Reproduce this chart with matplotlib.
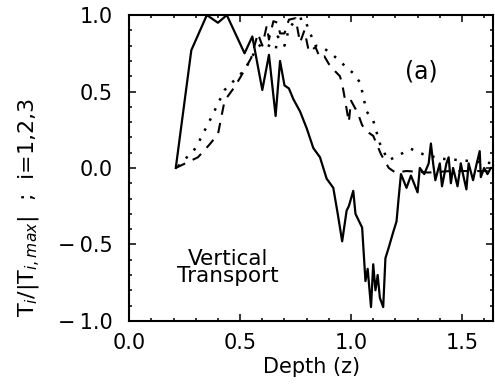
import matplotlib
matplotlib.use("Agg")
import matplotlib.pyplot as plt
from matplotlib.ticker import MultipleLocator, FuncFormatter

# --- series 1 (solid) ---
z1 = [0.21, 0.28, 0.35, 0.40, 0.44, 0.52, 0.555, 0.60, 0.63, 0.66, 0.68, 0.70,
      0.72, 0.74, 0.77, 0.80, 0.83, 0.86, 0.89, 0.92, 0.94, 0.96, 0.98, 0.99,
      1.01, 1.02, 1.05, 1.065, 1.075, 1.09, 1.10, 1.11, 1.12, 1.13, 1.145, 1.155,
      1.17, 1.19, 1.205, 1.215, 1.225, 1.25, 1.27, 1.30, 1.31, 1.33, 1.35, 1.36,
      1.37, 1.38, 1.40, 1.41, 1.43, 1.44, 1.45, 1.46, 1.48, 1.495, 1.50, 1.52,
      1.53, 1.55, 1.565, 1.58, 1.585, 1.60, 1.615, 1.63, 1.645]
t1 = [0.00, 0.77, 1.00, 0.95, 1.00, 0.75, 0.86, 0.51, 0.74, 0.34, 0.70, 0.54,
      0.52, 0.45, 0.37, 0.26, 0.13, 0.07, -0.07, -0.13, -0.30, -0.48, -0.28, -0.25,
      -0.15, -0.30, -0.39, -0.74, -0.66, -0.91, -0.63, -0.80, -0.70, -0.85, -0.91, -0.59,
      -0.52, -0.42, -0.35, -0.19, -0.04, -0.13, -0.05, -0.16, 0.00, -0.04, 0.03, 0.16,
      0.03, -0.08, 0.03, -0.12, 0.03, 0.07, -0.10, 0.00, -0.12, 0.03, -0.01, -0.14,
      0.03, -0.08, 0.02, 0.11, -0.06, 0.00, -0.04, 0.00, 0.00]

# --- series 2 (dashed) ---
z2 = [0.21, 0.31, 0.36, 0.40, 0.43, 0.47, 0.50, 0.55, 0.58, 0.60, 0.62, 0.63,
      0.65, 0.67, 0.68, 0.70, 0.72, 0.75, 0.77, 0.79, 0.81, 0.84, 0.86, 0.88,
      0.90, 0.93, 0.95, 0.96, 0.97, 0.99, 1.00, 1.03, 1.05, 1.07, 1.10, 1.135,
      1.17, 1.20, 1.25, 1.35, 1.45, 1.55, 1.645]
t2 = [0.00, 0.07, 0.15, 0.22, 0.44, 0.52, 0.59, 0.72, 0.88, 0.80, 0.93, 0.84,
      0.96, 0.95, 0.88, 0.88, 0.97, 0.98, 0.82, 0.90, 0.76, 0.79, 0.72, 0.73,
      0.68, 0.63, 0.60, 0.55, 0.47, 0.30, 0.44, 0.36, 0.28, 0.24, 0.21, 0.09,
      0.00, -0.03, -0.02, -0.03, -0.02, -0.02, -0.02]

# --- series 3 (dotted) ---
z3 = [0.22, 0.30, 0.37, 0.43, 0.52, 0.57, 0.60, 0.63, 0.66, 0.67, 0.70, 0.72,
      0.75, 0.79, 0.81, 0.84, 0.87, 0.90, 0.95, 0.97, 1.01, 1.045, 1.05, 1.07,
      1.10, 1.13, 1.145, 1.17, 1.21, 1.27, 1.325, 1.41, 1.50, 1.645]
t3 = [0.01, 0.13, 0.33, 0.51, 0.64, 0.77, 0.82, 0.80, 0.77, 0.86, 0.80, 0.91,
      0.97, 0.98, 0.90, 0.80, 0.79, 0.76, 0.70, 0.67, 0.62, 0.55, 0.50, 0.37,
      0.31, 0.16, 0.11, 0.05, 0.08, 0.125, 0.09, 0.06, 0.05, 0.03]


def fmt(v, pos):
    return f"{v:.1f}".replace("-", "\u2212\u2009")


fig = plt.figure(figsize=(4.95, 3.87), dpi=100)
ax = fig.add_axes([0.261, 0.171, 0.735, 0.790])

ax.plot(z1, t1, color="black", lw=1.6, ls="-")
ax.plot(z2, t2, color="black", lw=1.5, ls=(0, (5, 4)))
ax.plot(z3, t3, color="black", lw=1.8, ls=(0, (1, 3.5)))

ax.set_xlim(0.0, 1.64)
ax.set_ylim(-1.0, 1.0)
ax.xaxis.set_major_locator(MultipleLocator(0.5))
ax.xaxis.set_minor_locator(MultipleLocator(0.1))
ax.yaxis.set_major_locator(MultipleLocator(0.5))
ax.yaxis.set_minor_locator(MultipleLocator(0.1))
ax.xaxis.set_major_formatter(FuncFormatter(fmt))
ax.yaxis.set_major_formatter(FuncFormatter(fmt))
ax.tick_params(which="both", direction="in", top=True, right=True,
               labelsize=15, width=1.1)
ax.tick_params(axis="y", which="major", length=5, pad=12)
ax.tick_params(axis="x", which="major", length=5, pad=9)
ax.tick_params(which="minor", length=2.5)
for s in ax.spines.values():
    s.set_linewidth(1.5)

ax.set_xlabel("Depth (z)", fontsize=15, labelpad=3)
ax.set_ylabel(r"T$_i$/|T$_{i,max}$|  ;  i=1,2,3", fontsize=16)
ax.yaxis.set_label_coords(-0.24, 0.37)

ax.text(1.315, 0.63, "(a)", fontsize=17, ha="center", va="center")
ax.text(0.445, -0.65, "Vertical\nTransport", fontsize=15.5, ha="center",
        va="center", linespacing=0.8)

fig.savefig("out.png", dpi=100)
